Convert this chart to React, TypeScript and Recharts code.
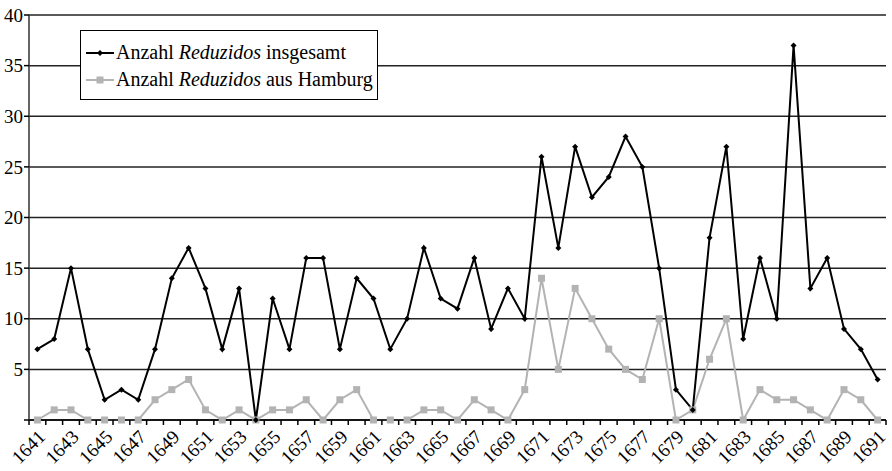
import React from 'react';
import { LineChart, Line, XAxis, YAxis, CartesianGrid } from 'recharts';

const years = [
  1641, 1642, 1643, 1644, 1645, 1646, 1647, 1648, 1649, 1650,
  1651, 1652, 1653, 1654, 1655, 1656, 1657, 1658, 1659, 1660,
  1661, 1662, 1663, 1664, 1665, 1666, 1667, 1668, 1669, 1670,
  1671, 1672, 1673, 1674, 1675, 1676, 1677, 1678, 1679, 1680,
  1681, 1682, 1683, 1684, 1685, 1686, 1687, 1688, 1689, 1690, 1691,
];

const insgesamt = [
  7, 8, 15, 7, 2, 3, 2, 7, 14, 17,
  13, 7, 13, 0, 12, 7, 16, 16, 7, 14,
  12, 7, 10, 17, 12, 11, 16, 9, 13, 10,
  26, 17, 27, 22, 24, 28, 25, 15, 3, 1,
  18, 27, 8, 16, 10, 37, 13, 16, 9, 7, 4,
];

const hamburg = [
  0, 1, 1, 0, 0, 0, 0, 2, 3, 4,
  1, 0, 1, 0, 1, 1, 2, 0, 2, 3,
  0, 0, 0, 1, 1, 0, 2, 1, 0, 3,
  14, 5, 13, 10, 7, 5, 4, 10, 0, 1,
  6, 10, 0, 3, 2, 2, 1, 0, 3, 2, 0,
];

const yTicks = [0, 5, 10, 15, 20, 25, 30, 35, 40];

const data = years.map((y, i) => ({ year: y, total: insgesamt[i], hh: hamburg[i] }));

const W = 892;
const H = 471;
const LEFT = 29;
const RIGHT_MARGIN = 6;
const BAND = (W - LEFT - RIGHT_MARGIN) / years.length;
const FONT = '"Liberation Serif", "Times New Roman", serif';
const GRAY = '#b3b3b3';

const Diamond = (props: any) => {
  const { cx, cy } = props;
  if (cx == null || cy == null) return null;
  const r = 3;
  return (
    <path
      d={`M${cx},${cy - r} L${cx + r},${cy} L${cx},${cy + r} L${cx - r},${cy} Z`}
      fill="#000"
    />
  );
};

const Square = (props: any) => {
  const { cx, cy } = props;
  if (cx == null || cy == null) return null;
  const s = 7;
  return <rect x={cx - s / 2} y={cy - s / 2} width={s} height={s} fill={GRAY} />;
};

const XTick = (props: any) => {
  const { x, y, payload, index } = props;
  const half = BAND / 2;
  const ax = x + 9;
  const ay = y + 18;
  return (
    <g>
      <line x1={x - half} x2={x - half} y1={y} y2={y + 5} stroke="#000" strokeWidth={1.5} />
      {index === years.length - 1 && (
        <line x1={x + half} x2={x + half} y1={y} y2={y + 5} stroke="#000" strokeWidth={1.5} />
      )}
      {index % 2 === 0 && (
        <text
          x={ax}
          y={ay}
          transform={`rotate(-45, ${ax}, ${ay})`}
          textAnchor="end"
          fontFamily={FONT}
          fontSize={19}
          fill="#000"
        >
          {payload.value}
        </text>
      )}
    </g>
  );
};

const LegendBox = () => (
  <div
    style={{
      position: 'absolute',
      left: 80,
      top: 30,
      width: 298,
      height: 70,
      boxSizing: 'border-box',
      border: '1.5px solid #000',
      background: '#fff',
      fontFamily: FONT,
      fontSize: 20,
      color: '#000',
      paddingTop: 8,
    }}
  >
    {[
      { label: 'insgesamt', color: '#000', square: false },
      { label: 'aus Hamburg', color: GRAY, square: true },
    ].map((it, i) => (
      <div key={i} style={{ display: 'flex', alignItems: 'center', height: 27, paddingLeft: 5 }}>
        <svg width={30} height={12} style={{ flex: 'none' }}>
          <line x1={0} x2={28} y1={6} y2={6} stroke={it.color} strokeWidth={2} />
          {it.square ? (
            <rect x={10.5} y={2.5} width={7} height={7} fill={it.color} />
          ) : (
            <path d="M14,3 L17,6 L14,9 L11,6 Z" fill={it.color} />
          )}
        </svg>
        <span style={{ whiteSpace: 'nowrap' }}>
          Anzahl <i>Reduzidos</i> {it.label}
        </span>
      </div>
    ))}
  </div>
);

export default function App() {
  return (
    <div style={{ position: 'absolute', left: 0, top: 0, width: W, height: H, background: '#fff' }}>
      <LineChart
        width={W}
        height={H}
        data={data}
        margin={{ top: 15, right: RIGHT_MARGIN, bottom: 0, left: 0 }}
      >
        <CartesianGrid horizontal vertical={false} stroke="#222" strokeWidth={1.5} />
        <XAxis
          dataKey="year"
          type="category"
          interval={0}
          height={51}
          padding={{ left: BAND / 2, right: BAND / 2 }}
          axisLine={{ stroke: '#000', strokeWidth: 1.5 }}
          tickLine={false}
          tickSize={0}
          tickMargin={0}
          tick={<XTick />}
        />
        <YAxis
          width={LEFT}
          domain={[0, 40]}
          ticks={yTicks}
          interval={0}
          axisLine={{ stroke: '#333', strokeWidth: 1.5 }}
          tickLine={{ stroke: '#000', strokeWidth: 1.5 }}
          tickSize={5}
          tickMargin={1}
          tickFormatter={(v: number) => (v === 0 ? '' : String(v))}
          tick={{ fontFamily: FONT, fontSize: 19, fill: '#000' }}
        />
        <YAxis
          yAxisId="frame"
          orientation="right"
          width={0}
          domain={[0, 40]}
          tick={false}
          tickLine={false}
          axisLine={{ stroke: '#555', strokeWidth: 1.5 }}
        />
        <Line
          type="linear"
          dataKey="hh"
          stroke={GRAY}
          strokeWidth={2}
          dot={<Square />}
          activeDot={false}
          isAnimationActive={false}
        />
        <Line
          type="linear"
          dataKey="total"
          stroke="#000"
          strokeWidth={2}
          dot={<Diamond />}
          activeDot={false}
          isAnimationActive={false}
        />
      </LineChart>
      <LegendBox />
    </div>
  );
}
